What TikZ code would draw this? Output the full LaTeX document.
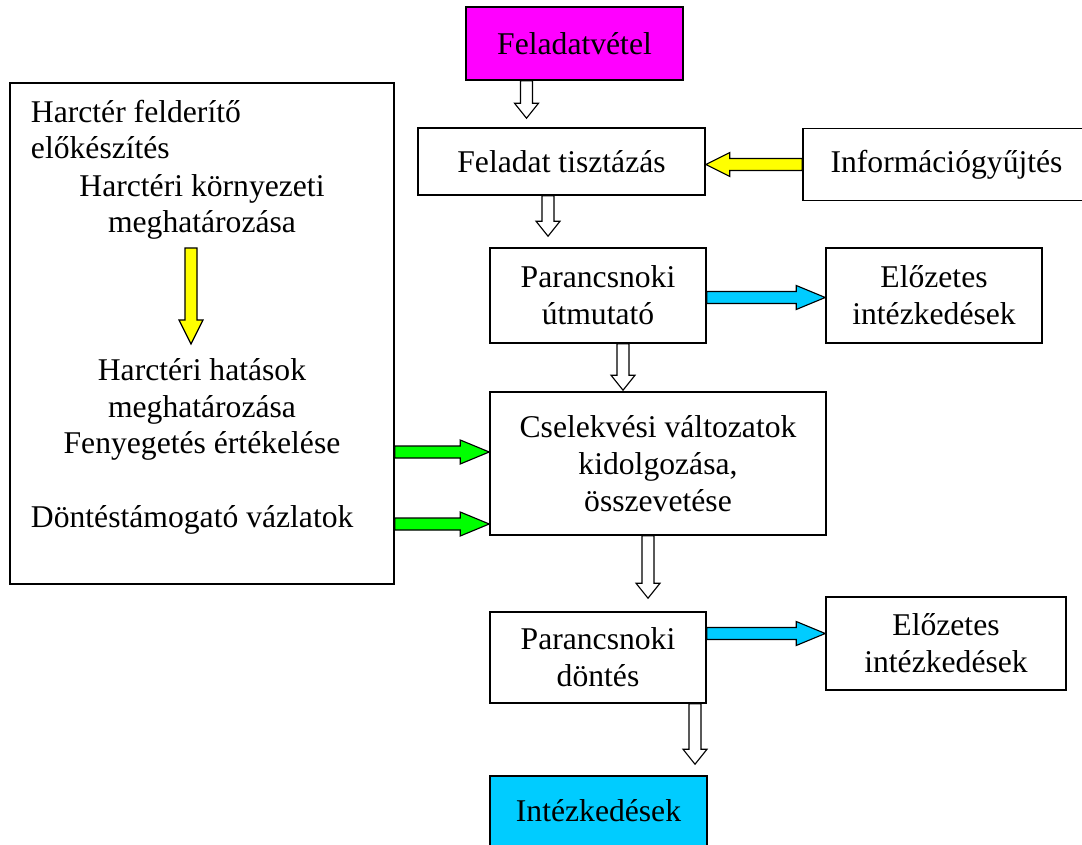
\documentclass[tikz,border=0pt]{standalone}
\usepackage{fontspec}
\setmainfont{Liberation Serif}
\usetikzlibrary{calc}
\definecolor{Magenta}{HTML}{FF00FF}
\definecolor{Sky}{HTML}{00CCFF}
\definecolor{Lime}{HTML}{00FF00}
\definecolor{Lemon}{HTML}{FFFF00}
\newcommand{\px}{0.025cm}
% block arrows: x taken from the start, y from the end (vertical)
\newcommand{\varr}[4][15]{%
  \draw[blk,fill=#2] let \p1=(#3), \p2=(#4) in
    (\x1-6*\px,\y1) -- (\x1-6*\px,\y2+#1*\px) -- (\x1-12*\px,\y2+#1*\px) -- (\x1,\y2)
    -- (\x1+12*\px,\y2+#1*\px) -- (\x1+6*\px,\y2+#1*\px) -- (\x1+6*\px,\y1) -- cycle;}
% y taken from the start, x from both (horizontal)
\newcommand{\harr}[4][29]{%
  \draw[blk,fill=#2] let \p1=(#3), \p2=(#4), \n1={sign(\x2-\x1)} in
    (\x1,\y1+6*\px) -- ({\x2-(\n1)*#1*\px},\y1+6*\px) -- ({\x2-(\n1)*#1*\px},\y1+12*\px) -- (\x2,\y1)
    -- ({\x2-(\n1)*#1*\px},\y1-12*\px) -- ({\x2-(\n1)*#1*\px},\y1-6*\px) -- (\x1,\y1-6*\px) -- cycle;}

\begin{document}
\begin{tikzpicture}[x=\px,y=-\px,
    box/.style={draw,line width=1.1pt,align=center,inner sep=2pt},
    dim/.style 2 args={minimum width=#1*\px,minimum height=#2*\px},
    blk/.style={draw,line width=0.8pt,line join=miter},
    font=\fontsize{22.5}{26.3}\selectfont
  ]
  \useasboundingbox (0,0) rectangle (1082,845);

  % main column
  \node[box,dim={217}{73},fill=Magenta] (fv) at (574.5,43.5) {Feladatvétel};
  \node[box,dim={287}{67}] (tisz) at (561.5,161.5) {Feladat tisztázás};
  \node[box,dim={287}{72}] (info) at (946.5,164.5) {Információgyűjtés};
  \node[box,dim={216}{95}] (utm) at (598,295.5) {Parancsnoki\\útmutató};
  \node[box,dim={216}{95}] (elo1) at (934,295.5) {Előzetes\\intézkedések};
  \node[box,dim={336}{143}] (csel) at (658,463.5) {Cselekvési változatok\\kidolgozása,\\összevetése};
  \node[box,dim={216}{91}] (dont) at (598,657.5) {Parancsnoki\\döntés};
  \node[box,dim={240}{93}] (elo2) at (946,643.5) {Előzetes\\intézkedések};
  \node[box,dim={217}{70},fill=Sky] (intez) at (598.5,811) {Intézkedések};

  % left panel
  \node[box,dim={384}{501}] (env) at (202,333.5) {};
  \node[anchor=base west] (l1) at (26,123) {Harctér felderítő};
  \node[anchor=base west] (l2) at (26,159) {előkészítés};
  \node[anchor=base] (l3) at (202,197) {Harctéri környezeti};
  \node[anchor=base] (l4) at (202,233) {meghatározása};
  \node[anchor=base] (l5) at (202,380) {Harctéri hatások};
  \node[anchor=base] (l6) at (202,417) {meghatározása};
  \node[anchor=base] (l7) at (202,453) {Fenyegetés értékelése};
  \node[anchor=base west] (l8) at (26,527) {Döntéstámogató vázlatok};

  % arrows
  \varr{white}{$(fv.south)+(-48,0)$}{$(tisz.north)+(0,-9)$}
  \varr{white}{$(tisz.south)+(-13.5,0)$}{$(utm.north)+(0,-11)$}
  \varr{white}{$(utm.south)+(25,0)$}{$(csel.north)+(0,-1)$}
  \varr{white}{$(csel.south)+(-10,0)$}{$(dont.north)+(0,-13)$}
  \varr{white}{$(dont.south)+(97,0)$}{$(intez.north)+(0,-11)$}
  \varr[24]{Lemon}{$(l4.base)+(-11,15)$}{$(l5.base)+(0,-36)$}
  \harr[24]{Lemon}{info.west}{tisz.east}
  \harr{Sky}{$(utm.east)+(0,2)$}{elo1.west}
  \harr{Sky}{$(dont.east |- elo2.west)+(0,-10)$}{elo2.west}
  \harr{Lime}{$(env.east |- csel.west)+(0,-11.5)$}{csel.west}
  \harr{Lime}{$(env.east |- csel.west)+(0,60.5)$}{csel.west}
\end{tikzpicture}
\end{document}
